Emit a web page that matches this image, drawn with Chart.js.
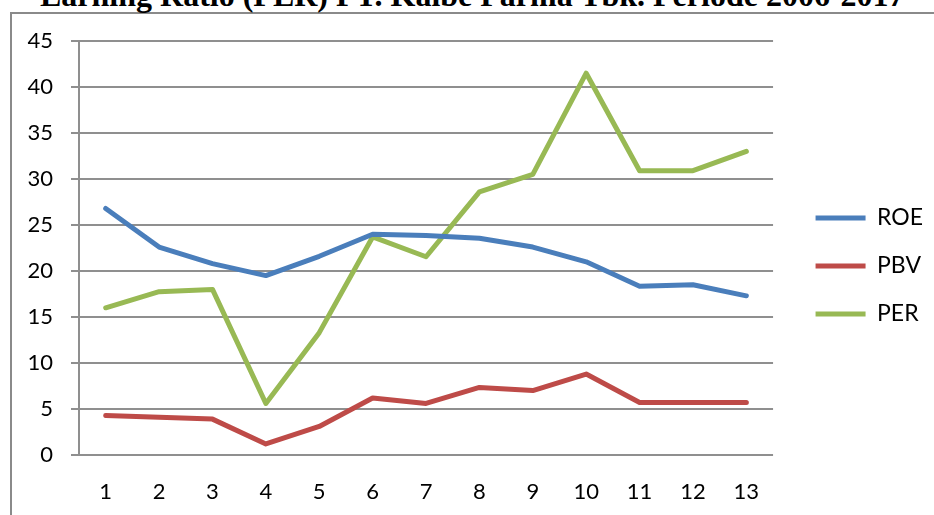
<!DOCTYPE html>
<html>
<head>
<meta charset="utf-8">
<script src="https://cdn.jsdelivr.net/npm/chart.js@4"></script>
<style>
   html, body { margin: 0; padding: 0; background: #fff; overflow: hidden; }
   #frame { position: absolute; left: 10px; top: 12px; width: 1000px; height: 600px;
            border-left: 2px solid #8a8a8a; border-top: 2px solid #8a8a8a; }
   #title { position: absolute; left: 40px; top: -21px; white-space: nowrap;
            font: bold 32px "Liberation Serif", "Times New Roman", serif; line-height: 32px; color: #000; }
   #wrap { position: absolute; left: 0; top: 0; width: 934px; height: 515px; }
</style>
</head>
<body>
<div id="frame"></div>
<div id="title">Earning Ratio (PER) PT. Kalbe Farma Tbk. Periode 2006-2017</div>
<div id="wrap"><canvas id="ratioChart" width="934" height="515"></canvas></div>
<script>
//1) DATA//
const periods = ['1', '2', '3', '4', '5', '6', '7', '8', '9', '10', '11', '12', '13'];
const roeValues = [26.8, 22.6, 20.8, 19.5, 21.6, 24.0, 23.85, 23.55, 22.6, 21.0, 18.35, 18.5, 17.3];
const pbvValues = [4.3, 4.1, 3.9, 1.2, 3.1, 6.2, 5.6, 7.35, 7.0, 8.8, 5.7, 5.7, 5.7];
const perValues = [16.0, 17.75, 18.0, 5.6, 13.3, 23.7, 21.55, 28.6, 30.5, 41.5, 30.9, 30.9, 33.0];
const yTicks = [0, 5, 10, 15, 20, 25, 30, 35, 40, 45];

const axisGrey = '#8f8f8f';
const tickFont = { family: 'Lato', size: 22 };
const legendFont = { family: 'Lato', size: 23 };

function seriesLine(label, data, color) {
   return {
      label: label,
      data: data,
      borderColor: color,
      backgroundColor: color,
      borderWidth: 5,
      borderCapStyle: 'round',
      borderJoinStyle: 'round',
      pointRadius: 0,
      tension: 0,
      fill: false
   };
}

//2) CHART//
const ctx = document.getElementById('ratioChart').getContext('2d');
const ratioChart = new Chart(ctx, {
   type: 'line',
   data: {
      labels: periods,
      datasets: [
         seriesLine('ROE', roeValues, '#4A7EBB'),
         seriesLine('PBV', pbvValues, '#BE4B48'),
         seriesLine('PER', perValues, '#98B954')
      ]
   },
   options: {
      responsive: false,
      animation: false,
      layout: { padding: { top: 41, right: 1, bottom: 0, left: 0 } },
      scales: {
         x: {
            offset: true,
            grid: { display: false, drawTicks: false },
            border: { display: false },
            ticks: { color: '#000', font: tickFont, padding: 24, maxRotation: 0 },
            afterFit: (scale) => { scale.height = 60; }
         },
         y: {
            min: 0,
            max: 45,
            afterBuildTicks: (scale) => { scale.ticks = yTicks.map(v => ({ value: v })); },
            grid: { color: axisGrey, lineWidth: 2, drawTicks: true, tickLength: 8 },
            border: { display: true, color: axisGrey, width: 2 },
            ticks: { color: '#000', font: tickFont, padding: 18 },
            afterFit: (scale) => { scale.width = 79; }
         },
         // empty spacer between plot and legend
         gap: {
            type: 'linear',
            position: 'right',
            grid: { display: false },
            border: { display: false },
            ticks: { display: false },
            afterFit: (scale) => { scale.width = 17.5; }
         }
      },
      plugins: {
         legend: {
            position: 'right',
            fullSize: false,
            // blank title only pushes the entries down a little
            title: { display: true, text: ' ', font: { size: 21, lineHeight: 1.2 }, padding: { top: 10.8, bottom: 0 } },
            labels: {
               color: '#000',
               font: legendFont,
               usePointStyle: true,
               pointStyle: 'line',
               pointStyleWidth: 50,
               padding: 25
            }
         },
         tooltip: { enabled: false }
      }
   }
});
</script>
</body>
</html>
